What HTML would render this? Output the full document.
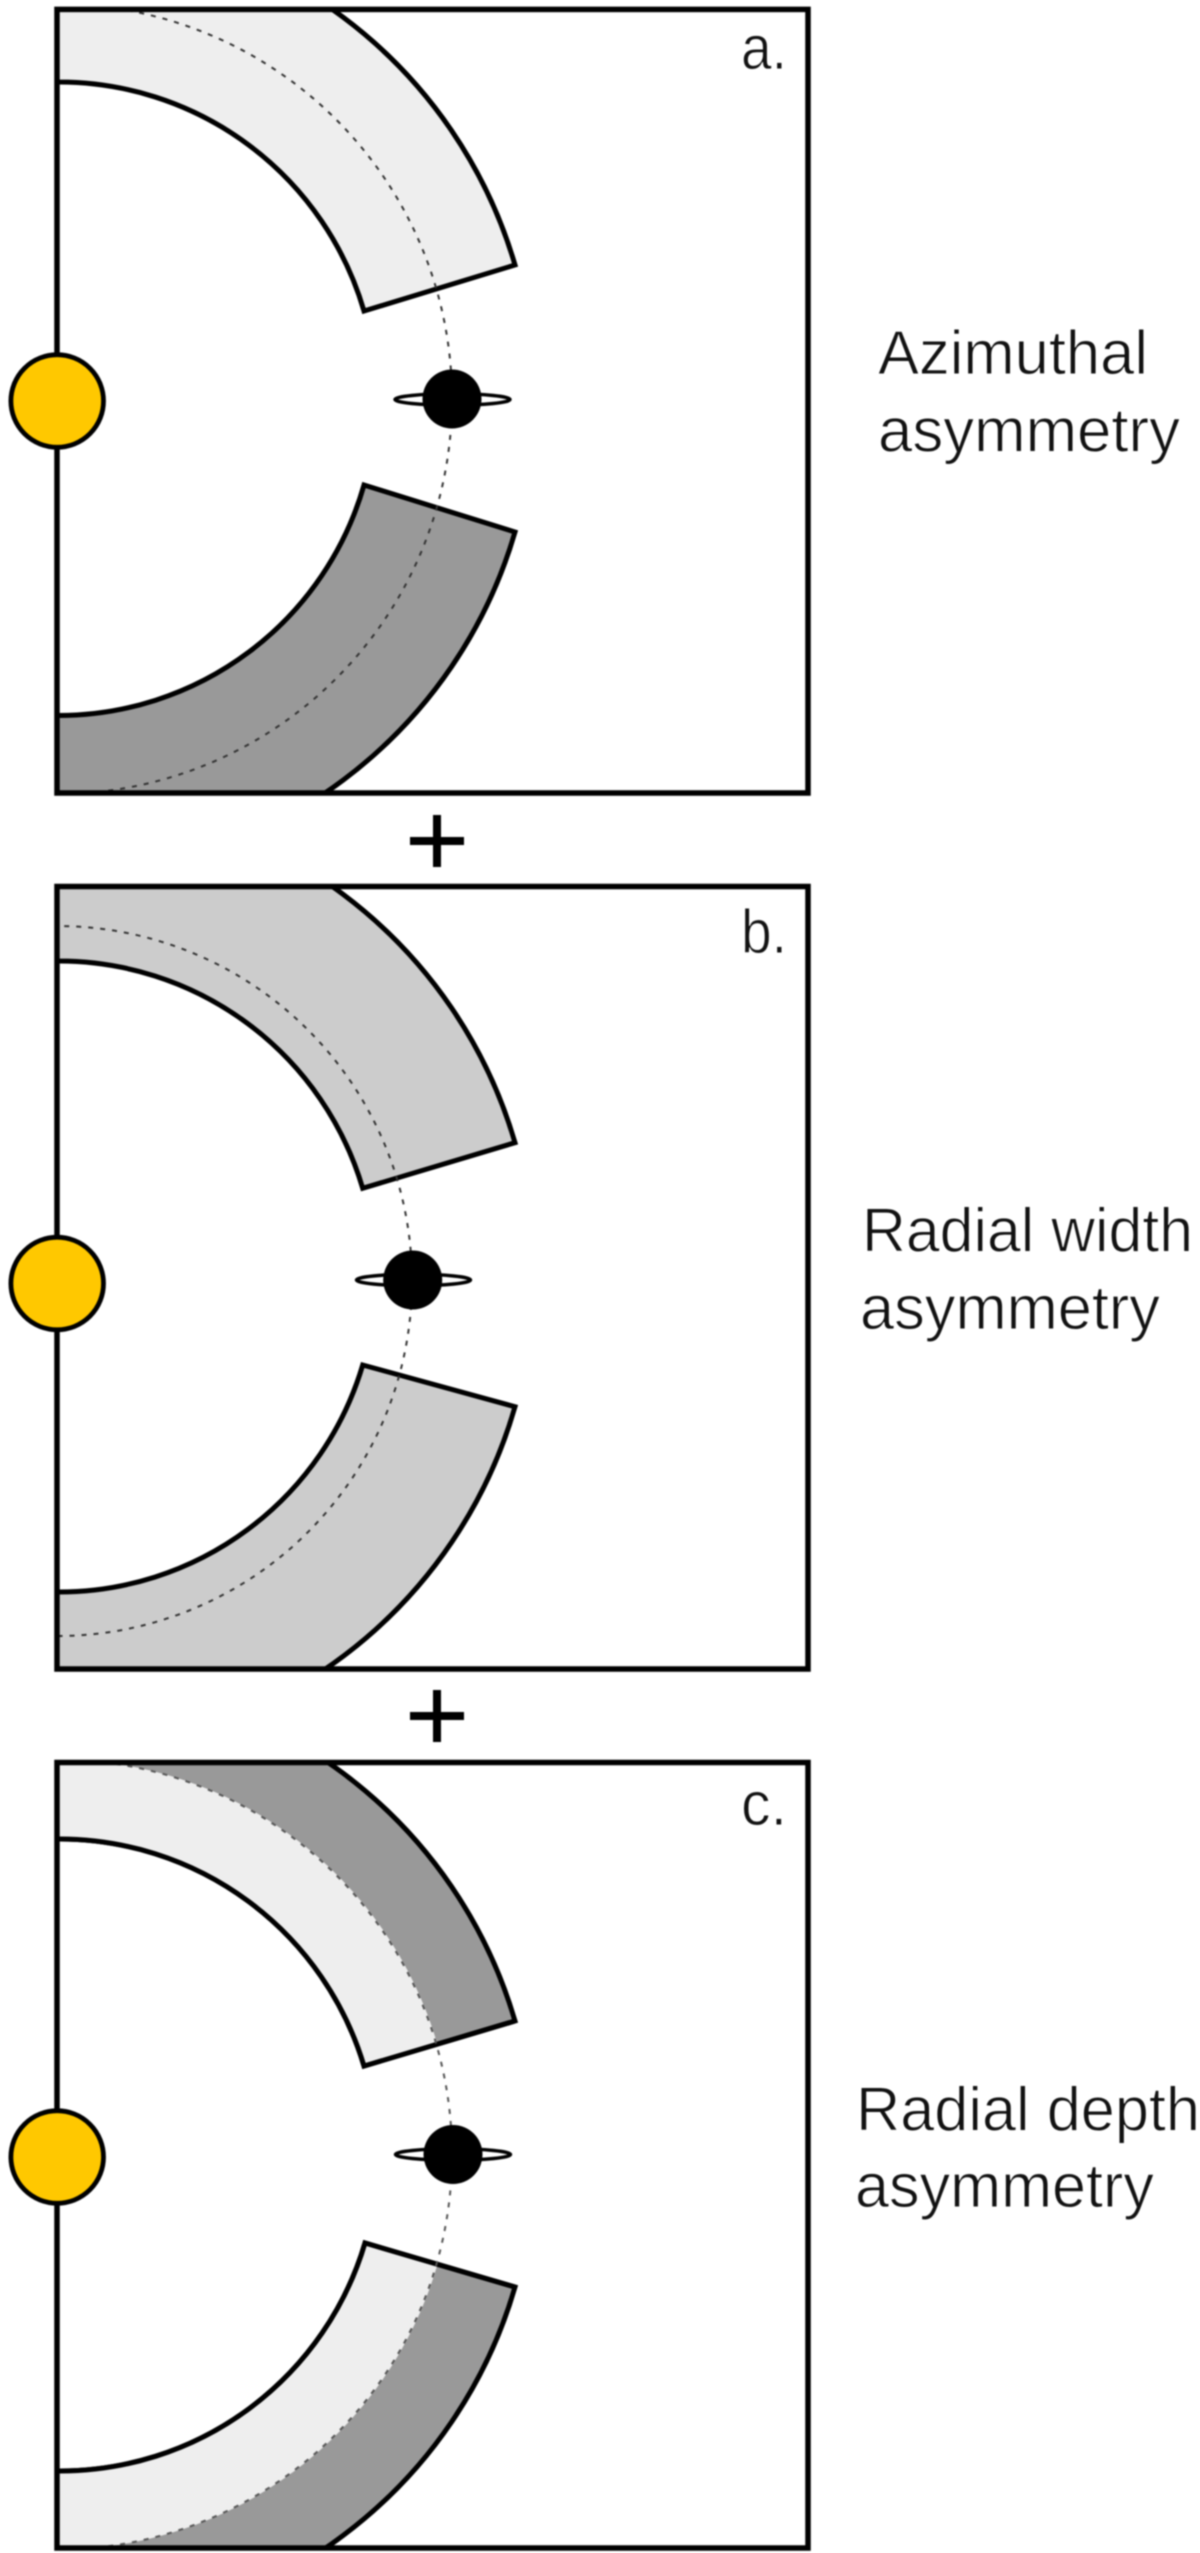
<!DOCTYPE html>
<html><head><meta charset="utf-8"><style>
html,body{margin:0;padding:0;background:#fff;width:1200px;height:2553px;overflow:hidden}
svg{display:block;filter:blur(.7px)}
text{font-family:"Liberation Sans",sans-serif;fill:#111;stroke:#fff;stroke-width:1px;font-size:62px}
</style></head><body>
<svg width="1200" height="2553" viewBox="0 0 1200 2553" xmlns="http://www.w3.org/2000/svg">
<defs>
<clipPath id="ca"><rect x="57" y="9.4" width="751" height="783.6"/></clipPath>
<clipPath id="cb"><rect x="57" y="886.5" width="751" height="782.5"/></clipPath>
<clipPath id="cc"><rect x="57" y="1762.5" width="751" height="785.5"/></clipPath>
</defs>

<!-- Panel a -->
<g clip-path="url(#ca)">
<path d="M57 -77.5A476 476 0 0 1 515 265L364 311A318 318 0 0 0 57 82Z" fill="#eee" stroke="#000" stroke-width="5"/>
<path d="M57 875A476 476 0 0 0 515 532L364 485A318 318 0 0 1 57 715.5Z" fill="#999" stroke="#000" stroke-width="5"/>
<circle cx="57" cy="399" r="395" fill="none" stroke="#333" stroke-width="2" stroke-dasharray="5 7"/>
</g>
<rect x="57" y="9.4" width="751" height="783.6" fill="none" stroke="#000" stroke-width="5.5"/>
<ellipse cx="452.5" cy="399.5" rx="57.5" ry="5.7" fill="#fff" stroke="#000" stroke-width="3.5"/>
<circle cx="452" cy="399" r="29.5" fill="#000"/>
<circle cx="57.2" cy="401" r="46.3" fill="#ffc800" stroke="#000" stroke-width="4.8"/>
<text x="741" y="69" textLength="46" lengthAdjust="spacingAndGlyphs">a.</text>
<text x="878" y="374" textLength="270" lengthAdjust="spacingAndGlyphs">Azimuthal</text>
<text x="878" y="451.5" textLength="302" lengthAdjust="spacingAndGlyphs">asymmetry</text>
<path d="M410 841H464M437 815V867" stroke="#000" stroke-width="8" fill="none"/>

<!-- Panel b -->
<g clip-path="url(#cb)">
<path d="M57 799A477 477 0 0 1 515 1142.7L362.7 1188.3A317 317 0 0 0 57 961Z" fill="#ccc" stroke="#000" stroke-width="5"/>
<path d="M57 1752A477 477 0 0 0 515 1406.7L362.7 1365A317 317 0 0 1 57 1592Z" fill="#ccc" stroke="#000" stroke-width="5"/>
<circle cx="57" cy="1281" r="355" fill="none" stroke="#333" stroke-width="2" stroke-dasharray="5 7"/>
</g>
<rect x="57" y="886.5" width="751" height="782.5" fill="none" stroke="#000" stroke-width="5.5"/>
<ellipse cx="413.5" cy="1280" rx="57" ry="5.7" fill="#fff" stroke="#000" stroke-width="3.5"/>
<circle cx="412.7" cy="1280" r="29.5" fill="#000"/>
<circle cx="57.2" cy="1283.5" r="46.3" fill="#ffc800" stroke="#000" stroke-width="4.8"/>
<text x="741" y="953" textLength="46" lengthAdjust="spacingAndGlyphs">b.</text>
<text x="862" y="1251.5" textLength="331" lengthAdjust="spacingAndGlyphs">Radial width</text>
<text x="860" y="1329" textLength="300" lengthAdjust="spacingAndGlyphs">asymmetry</text>
<path d="M410 1716H464M437 1690V1742" stroke="#000" stroke-width="8" fill="none"/>

<!-- Panel c -->
<g clip-path="url(#cc)">
<path d="M57 1678.5A476 476 0 0 1 515 2021L364 2066A318 318 0 0 0 57 1839Z" fill="#999" stroke="#000" stroke-width="5"/>
<path d="M57 2630.5A476 476 0 0 0 515 2287L365 2243A318 318 0 0 1 57 2471Z" fill="#999" stroke="#000" stroke-width="5"/>
<path d="M57 1759.5A395 395 0 0 1 437 2043L364 2066A318 318 0 0 0 57 1839Z" fill="#eee"/>
<path d="M57 2549.5A395 395 0 0 0 437 2266L365 2243A318 318 0 0 1 57 2471Z" fill="#eee"/>
<path d="M57 1839A318 318 0 0 1 364 2066L515 2021M57 2471A318 318 0 0 0 365 2243L515 2287" fill="none" stroke="#000" stroke-width="5"/>
<circle cx="57" cy="2154.5" r="395" fill="none" stroke="#555" stroke-width="2" stroke-dasharray="5 7"/>
</g>
<rect x="57" y="1762.5" width="751" height="785.5" fill="none" stroke="#000" stroke-width="5.5"/>
<ellipse cx="453" cy="2154.5" rx="57.5" ry="5.7" fill="#fff" stroke="#000" stroke-width="3.5"/>
<circle cx="453" cy="2154.5" r="29.5" fill="#000"/>
<circle cx="57.2" cy="2157" r="46.3" fill="#ffc800" stroke="#000" stroke-width="4.8"/>
<text x="741" y="1825" textLength="46" lengthAdjust="spacingAndGlyphs">c.</text>
<text x="856" y="2130.5" textLength="344" lengthAdjust="spacingAndGlyphs">Radial depth</text>
<text x="855" y="2207" textLength="299" lengthAdjust="spacingAndGlyphs">asymmetry</text>
</svg>
</body></html>
